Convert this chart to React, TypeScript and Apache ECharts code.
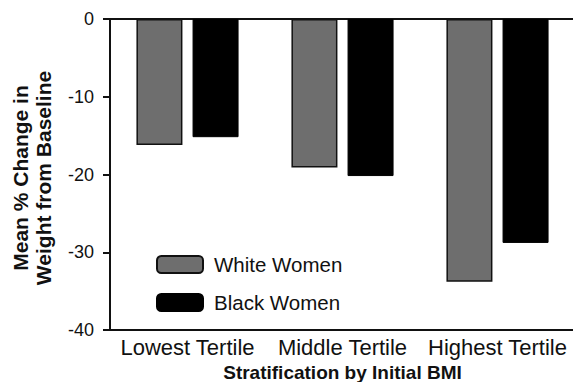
import React, { useEffect, useRef } from "react";
import * as echarts from "echarts";

const categories = ["Lowest Tertile", "Middle Tertile", "Highest Tertile"];
const whiteWomen = [-16.2, -19.1, -33.8];
const blackWomen = [-15.2, -20.2, -28.8];
const seriesNames = ["White Women", "Black Women"];
const yTitle = "Mean % Change in\nWeight from Baseline";
const xTitle = "Stratification by Initial BMI";

export default function App() {
  const ref = useRef<HTMLDivElement>(null);
  useEffect(() => {
    if (!ref.current) return;
    const chart = echarts.init(ref.current, null, { renderer: "svg" });
    const font = "'Liberation Sans', Arial, sans-serif";
    chart.setOption({
      animation: false,
      backgroundColor: "#ffffff",
      textStyle: { fontFamily: font },
      grid: { left: 110, right: -2, top: 19, bottom: 52, containLabel: false, outerBoundsMode: "none" },
      legend: {
        orient: "vertical",
        left: 156,
        top: 254,
        padding: 0,
        itemWidth: 46,
        itemHeight: 17,
        itemGap: 17,
        textStyle: { fontSize: 20.5, color: "#111", fontFamily: font, padding: [0, 0, 0, 6] },
        data: seriesNames,
      },
      xAxis: [
        {
          type: "category",
          data: categories,
          position: "bottom",
          axisLine: { onZero: false, lineStyle: { color: "#111", width: 2 } },
          axisTick: { show: false },
          axisLabel: { fontSize: 22, color: "#111", margin: 6, fontFamily: font, interval: 0, hideOverlap: false },
          name: xTitle,
          nameLocation: "middle",
          nameGap: 29,
          nameTextStyle: {
            fontSize: 19,
            lineHeight: 19,
            fontWeight: "bold",
            color: "#111",
            fontFamily: font,
            verticalAlign: "top",
          },
        },
        {
          type: "category",
          data: categories,
          position: "top",
          axisLine: { onZero: false, lineStyle: { color: "#111", width: 2 } },
          axisTick: { show: false },
          axisLabel: { show: false },
        },
      ],
      yAxis: {
        type: "value",
        min: -40,
        max: 0,
        interval: 10,
        axisLine: { show: true, lineStyle: { color: "#111", width: 2 } },
        axisTick: { show: true, inside: false, length: 7, lineStyle: { color: "#111", width: 2 } },
        axisLabel: { fontSize: 18, color: "#111", margin: 16, fontFamily: font },
        splitLine: { show: false },
      },
      graphic: [
        {
          type: "text",
          x: 32,
          y: 178,
          rotation: Math.PI / 2,
          style: {
            text: yTitle,
            fontSize: 21,
            fontWeight: "bold",
            fill: "#111",
            fontFamily: font,
            textAlign: "center",
            textVerticalAlign: "middle",
            lineHeight: 23,
          },
        },
      ],
      series: [
        {
          name: seriesNames[0],
          type: "bar",
          data: whiteWomen,
          barWidth: 46,
          barGap: "22%",
          itemStyle: { color: "#6e6e6e", borderColor: "#111", borderWidth: 1.5 },
        },
        {
          name: seriesNames[1],
          type: "bar",
          data: blackWomen,
          barWidth: 46,
          itemStyle: { color: "#000000", borderColor: "#000", borderWidth: 1 },
        },
      ],
    });
    return () => chart.dispose();
  }, []);
  return <div ref={ref} style={{ width: 573, height: 382, position: "fixed", left: 0, top: 0 }} />;
}
